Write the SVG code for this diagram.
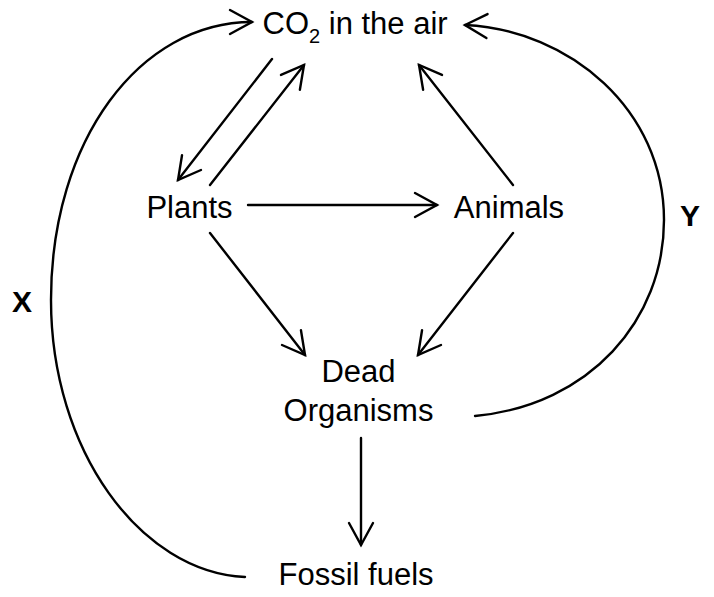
<svg xmlns="http://www.w3.org/2000/svg" width="714" height="597" viewBox="0 0 714 597">
<style>
.lbl{font-family:"Liberation Sans",Arial,sans-serif;font-size:31px;fill:#000}
.bold{font-family:"Liberation Sans",Arial,sans-serif;font-size:30px;font-weight:bold;fill:#000}
.c{fill:none;stroke:#000;stroke-width:2.4;stroke-linecap:round}
</style>
<defs>
<marker id="ah" markerUnits="userSpaceOnUse" orient="auto" refX="0" refY="0" markerWidth="30" markerHeight="30" overflow="visible">
<path d="M-22,-12 L0,0 L-22,12" fill="none" stroke="#000" stroke-width="2.4" stroke-linecap="round" stroke-linejoin="miter"/>
</marker>
</defs>
<rect width="714" height="597" fill="#fff"/>
<g id="connectors">
<line class="c" x1="272" y1="59" x2="178" y2="180" marker-end="url(#ah)"/>
<line class="c" x1="210" y1="185" x2="304" y2="65" marker-end="url(#ah)"/>
<line class="c" x1="513" y1="185" x2="419" y2="65" marker-end="url(#ah)"/>
<line class="c" x1="248" y1="205" x2="437" y2="205" marker-end="url(#ah)"/>
<line class="c" x1="210" y1="233" x2="305" y2="355" marker-end="url(#ah)"/>
<line class="c" x1="513" y1="233" x2="418" y2="355" marker-end="url(#ah)"/>
<line class="c" x1="361" y1="438" x2="361" y2="545" marker-end="url(#ah)"/>
<path id="curveX" class="c" d="M245,577 C140,572 51,450 51,300 C51,140 140,22 252,22" marker-end="url(#ah)"/>
<path id="curveY" class="c" d="M475,416 C590,405 664,320 664,220 C664,110 570,30 465,25" marker-end="url(#ah)"/>
</g>
<g id="co2"><text class="lbl" x="262.5" y="34">CO<tspan font-size="20" dy="9">2</tspan><tspan dy="-9"> in the air</tspan></text></g>
<g id="plants"><text class="lbl" x="189.5" y="218" text-anchor="middle">Plants</text></g>
<g id="animals"><text class="lbl" x="509" y="218" text-anchor="middle">Animals</text></g>
<g id="dead"><text class="lbl" x="358.5" y="382" text-anchor="middle">Dead</text><text class="lbl" x="358.5" y="421" text-anchor="middle">Organisms</text></g>
<g id="fossil"><text class="lbl" x="356" y="585" text-anchor="middle">Fossil fuels</text></g>
<g id="labelX"><text class="bold" x="22" y="312" text-anchor="middle">X</text></g>
<g id="labelY"><text class="bold" x="690" y="226" text-anchor="middle">Y</text></g>
</svg>
